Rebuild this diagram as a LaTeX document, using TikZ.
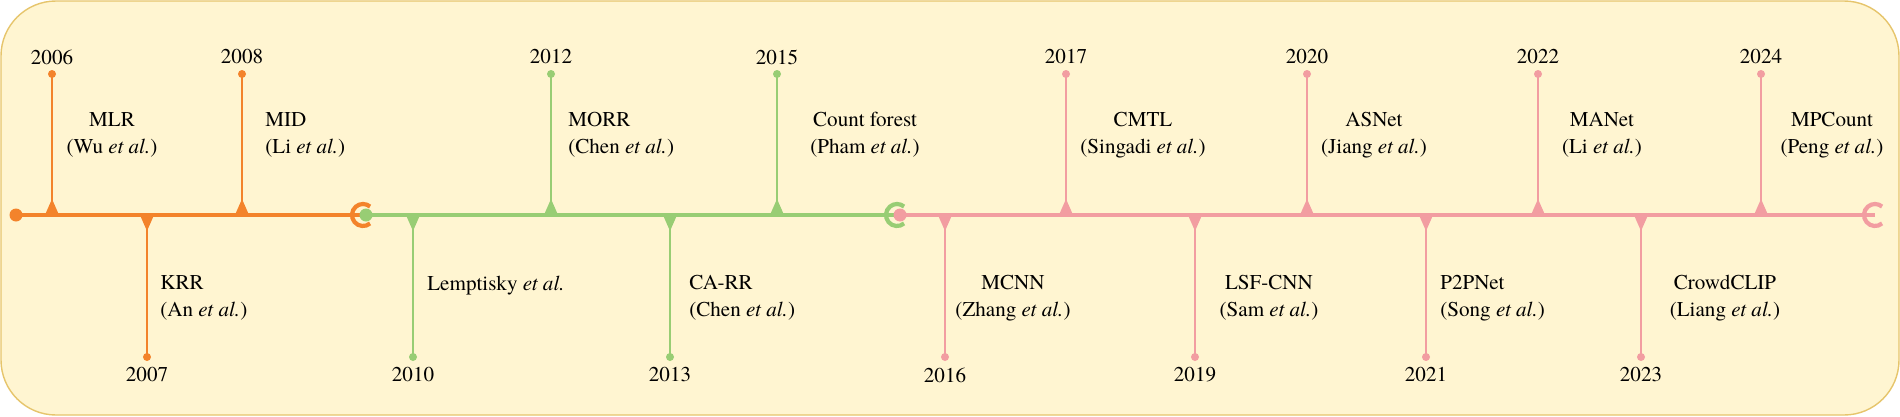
\documentclass[tikz,border=0pt]{standalone}
\usepackage{fontspec}
\setmainfont{texgyretermes}[Extension=.otf,UprightFont=*-regular,ItalicFont=*-italic,BoldFont=*-bold]

\definecolor{panelfill}{HTML}{FFF5D1}
\definecolor{panelline}{HTML}{E6C56C}
\definecolor{eraone}{HTML}{F3832B}
\definecolor{eratwo}{HTML}{98CD74}
\definecolor{erathree}{HTML}{F29DA1}

\begin{document}
\begin{tikzpicture}[x=0.02cm,y=-0.02cm,font=\fontsize{12}{15.3}\selectfont,
	axis/.style={line width=2pt},
	stem/.style={line width=1.4pt},
	endcap/.style={line width=2.4pt},
	year/.style={inner sep=0pt},
	work/.style={inner sep=0pt}]
	\useasboundingbox (0,0) rectangle (1900,416);
	
	%OUTLINE
	\draw[panelline,fill=panelfill,line width=0.8pt,rounded corners=1.1cm] (1,1) rectangle (1899,415);
	
	%AXIS
	\coordinate (s1) at (16,215);
	\coordinate (e1) at (363,215);
	\coordinate (e2) at (897,215);
	\coordinate (e3) at (1875,215);
	\coordinate (s2) at (366,215);
	\coordinate (s3) at (900,215);
	\draw[eraone,axis] (s1)--(e1);
	\draw[eratwo,axis] (s2)--(e2);
	\draw[erathree,axis] (s3)--(e3);
	\fill[eraone] (s1) circle (6.5);
	\draw[eraone,endcap] ([shift={(50:11)}]e1) arc[start angle=50,end angle=310,radius=11];
	\fill[eratwo] (s2) circle (6.5);
	\draw[eratwo,endcap] ([shift={(50:11)}]e2) arc[start angle=50,end angle=310,radius=11];
	\fill[erathree] (s3) circle (6.5);
	\draw[erathree,endcap] ([shift={(50:11)}]e3) arc[start angle=50,end angle=310,radius=11];
	
	%YEARS ABOVE
	\foreach \yr/\px/\col in {2006/52/eraone,2008/242/eraone,2012/551/eratwo,2015/777/eratwo,2017/1066/erathree,2020/1307/erathree,2022/1538/erathree,2024/1761/erathree}{
		\coordinate (a\yr) at (\px,215);
		\coordinate (t\yr) at (\px,74);
		\draw[\col,stem] (a\yr)--(t\yr);
		\fill[\col] (t\yr) circle (4);
		\fill[\col] (\px-7.5,216)--(\px+7.5,216)--(\px,199)--cycle;
		\node[year] (y\yr) at (\px,57) {\yr};
	}
	
	%YEARS BELOW
	\foreach \yr/\px/\col in {2007/147/eraone,2010/413/eratwo,2013/670/eratwo,2016/945/erathree,2019/1195/erathree,2021/1426/erathree,2023/1641/erathree}{
		\coordinate (a\yr) at (\px,215);
		\coordinate (b\yr) at (\px,357);
		\draw[\col,stem] (a\yr)--(b\yr);
		\fill[\col] (b\yr) circle (4);
		\fill[\col] (\px-7.5,214)--(\px+7.5,214)--(\px,231)--cycle;
		\node[year] (y\yr) at (\px,375) {\yr};
	}
	
	%WORKS ABOVE -- written one by one because of \textit
	\node[work,align=center] (mlr) at (112,135) {MLR\\(Wu \textit{et al.})};
	\node[work,align=left,anchor=west] (mid) at (265,135) {MID\\(Li \textit{et al.})};
	\node[work,align=left,anchor=west] (morr) at (568,135) {MORR\\(Chen \textit{et al.})};
	\node[work,align=center] (forest) at (865,135) {Count forest\\(Pham \textit{et al.})};
	\node[work,align=center] (cmtl) at (1143,135) {CMTL\\(Singadi \textit{et al.})};
	\node[work,align=center] (asnet) at (1374,135) {ASNet\\(Jiang \textit{et al.})};
	\node[work,align=center] (manet) at (1602,135) {MANet\\(Li \textit{et al.})};
	\node[work,align=center] (mpcount) at (1832,135) {MPCount\\(Peng \textit{et al.})};
	
	%WORKS BELOW
	\node[work,align=left,anchor=west] (krr) at (160,298) {KRR\\(An \textit{et al.})};
	\node[work,anchor=west] (lempitsky) at (427,286) {Lemptisky \textit{et al.}};
	\node[work,align=left,anchor=west] (carr) at (689,298) {CA-RR\\(Chen \textit{et al.})};
	\node[work,align=center] (mcnn) at (1013,298) {MCNN\\(Zhang \textit{et al.})};
	\node[work,align=center] (lsfcnn) at (1269,298) {LSF-CNN\\(Sam \textit{et al.})};
	\node[work,align=left,anchor=west] (p2pnet) at (1440,298) {P2PNet\\(Song \textit{et al.})};
	\node[work,align=center] (crowdclip) at (1725,298) {CrowdCLIP\\(Liang \textit{et al.})};
\end{tikzpicture}
\end{document}
